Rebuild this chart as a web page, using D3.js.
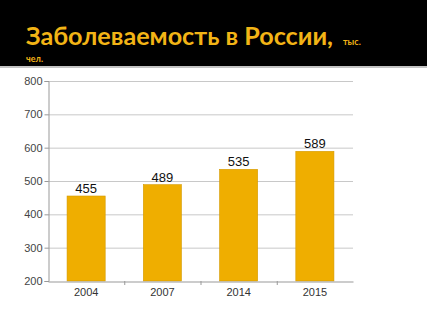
<!DOCTYPE html>
<html><head><meta charset="utf-8">
<script src="https://cdn.jsdelivr.net/npm/d3@7"></script>
<style>body{margin:0;background:#fff}svg{display:block}</style>
</head><body><svg id="c" width="427" height="320"></svg>
<script>
const categories = ["2004","2007","2014","2015"];
const values = [455,489,535,589];
const yTicks = [200,300,400,500,600,700,800];
const titleMain = "Заболеваемость в России,";
const titleUnit1 = "тыс.";
const titleUnit2 = "чел.";

const svg = d3.select("#c");
svg.append("rect").attr("x",0).attr("y",0).attr("width",427).attr("height",66).attr("fill","#000");
svg.append("rect").attr("x",0).attr("y",66).attr("width",427).attr("height",2).attr("fill","#c4c4c4");
svg.append("text").attr("x",26).attr("y",45).attr("fill","#f2b416")
  .attr("font-family","Lato, 'Open Sans', sans-serif").attr("font-weight","bold").attr("font-size",25)
  .attr("textLength",307).attr("lengthAdjust","spacingAndGlyphs").text(titleMain);
svg.append("text").attr("x",343).attr("y",45).attr("fill","#f2b416")
  .attr("font-family","Lato, sans-serif").attr("font-weight","bold").attr("font-size",9).text(titleUnit1);
svg.append("text").attr("x",26).attr("y",62).attr("fill","#f2b416")
  .attr("font-family","Lato, sans-serif").attr("font-weight","bold").attr("font-size",9).text(titleUnit2);

const L=48,R=353,T=81,B=281;
const x = d3.scaleBand().domain(categories).range([L,R]).paddingInner(0.5).paddingOuter(0.25);
const xb = d3.scaleBand().domain(categories).range([L,R]);
const y = d3.scaleLinear().domain([200,800]).range([B,T]);

// gridlines
svg.append("g").selectAll("line").data(yTicks.slice(1)).join("line")
  .attr("x1",L).attr("x2",R).attr("y1",d=>y(d)+0.5).attr("y2",d=>y(d)+0.5)
  .attr("stroke","#c8c8c8").attr("stroke-width",1);

// bars
svg.append("g").selectAll("rect").data(values).join("rect")
  .attr("x",(d,i)=>x(categories[i])).attr("width",x.bandwidth())
  .attr("y",d=>y(d)).attr("height",d=>B-y(d))
  .attr("fill","#efae00").attr("stroke","#d49a00").attr("stroke-width",0.6);

// value labels
svg.append("g").selectAll("text").data(values).join("text")
  .attr("x",(d,i)=>x(categories[i])+x.bandwidth()/2).attr("y",d=>y(d)-3)
  .attr("text-anchor","middle").attr("font-family","'Liberation Sans', Arial, sans-serif")
  .attr("font-size",13).attr("fill","#111").text(d=>d);

// y axis
const ya = svg.append("g").attr("transform",`translate(${L+0.5},0)`)
  .call(d3.axisLeft(y).tickValues(yTicks).tickSize(4).tickPadding(2));
ya.select(".domain").attr("stroke","#999");
ya.selectAll(".tick line").attr("stroke","#999");
ya.selectAll("text").attr("font-family","'Liberation Sans', Arial, sans-serif").attr("font-size",11).attr("fill","#444");

// x axis
const xa = svg.append("g").attr("transform",`translate(0,${B+0.5})`)
  .call(d3.axisBottom(xb).tickSize(0).tickPadding(7));
xa.select(".domain").attr("stroke","#999");
xa.selectAll("text").attr("font-family","'Liberation Sans', Arial, sans-serif").attr("font-size",11).attr("fill","#333");
svg.append("g").selectAll("line").data(categories.slice(1)).join("line")
  .attr("x1",d=>xb(d)+0.5).attr("x2",d=>xb(d)+0.5).attr("y1",B).attr("y2",B+4)
  .attr("stroke","#999");
</script></body></html>
